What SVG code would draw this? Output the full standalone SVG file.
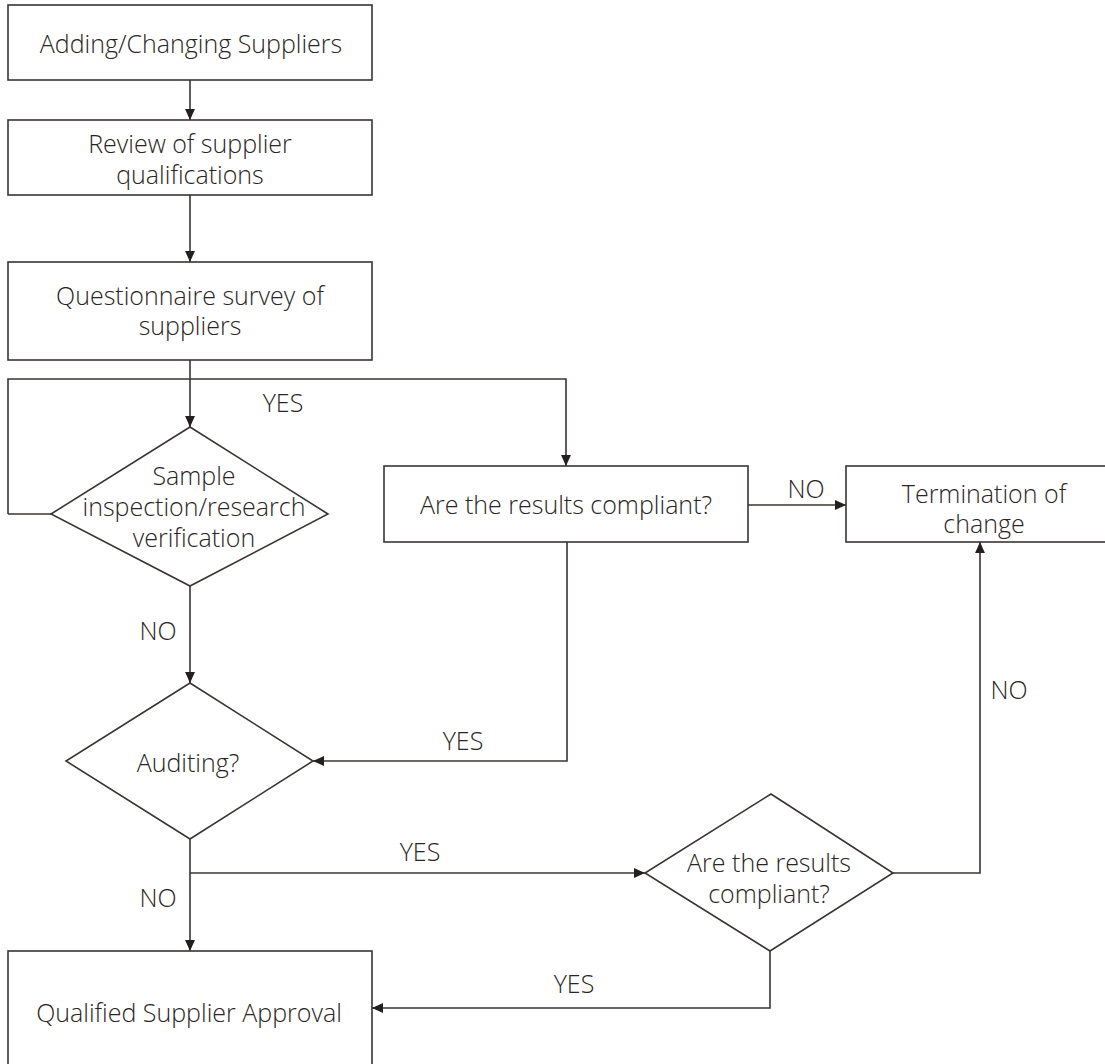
<svg xmlns="http://www.w3.org/2000/svg" width="1105" height="1064" viewBox="0 0 1105 1064">
<defs>
<style>
.box{fill:#fff;stroke:#3a3432;stroke-width:1.6}
.ln{fill:none;stroke:#3a3432;stroke-width:1.6}
.t{font-family:"Open Sans","Noto Sans","Liberation Sans",sans-serif;font-size:25px;font-weight:300;fill:#2a2523;text-anchor:middle}
</style>
<marker id="ah" viewBox="0 0 10 10" refX="10" refY="5" markerWidth="11" markerHeight="11" markerUnits="userSpaceOnUse" orient="auto">
<path d="M0,0.5 L10,5 L0,9.5 Z" fill="#231f1e"/>
</marker>
</defs>
<rect width="1105" height="1064" fill="#fff"/>
<g id="connectors">
<path class="ln" d="M190,80 V120" marker-end="url(#ah)"/>
<path class="ln" d="M190,195 V262" marker-end="url(#ah)"/>
<path class="ln" d="M190,360 V427" marker-end="url(#ah)"/>
<path class="ln" d="M8,514 V379 H566 V466" marker-end="url(#ah)"/>
<path class="ln" d="M8,514 H51"/>
<path class="ln" d="M748,505 H846" marker-end="url(#ah)"/>
<path class="ln" d="M190,586 V683" marker-end="url(#ah)"/>
<path class="ln" d="M567,542 V761 H313" marker-end="url(#ah)"/>
<path class="ln" d="M190,839 V951" marker-end="url(#ah)"/>
<path class="ln" d="M190,873 H645" marker-end="url(#ah)"/>
<path class="ln" d="M893,873 H980 V542" marker-end="url(#ah)"/>
<path class="ln" d="M770,951 V1008 H372" marker-end="url(#ah)"/>
<text class="t" x="283" y="412">YES</text>
<text class="t" x="158" y="640">NO</text>
<text class="t" x="806" y="498">NO</text>
<text class="t" x="463" y="750">YES</text>
<text class="t" x="420" y="861">YES</text>
<text class="t" x="158" y="907">NO</text>
<text class="t" x="574" y="993">YES</text>
<text class="t" x="1009" y="699">NO</text>
</g>
<g id="n1">
<rect class="box" x="8" y="5" width="364" height="75"/>
<text class="t" x="191" y="53">Adding/Changing Suppliers</text>
</g>
<g id="n2">
<rect class="box" x="8" y="120" width="364" height="75"/>
<text class="t" x="190" y="153">Review of supplier</text>
<text class="t" x="190" y="184">qualifications</text>
</g>
<g id="n3">
<rect class="box" x="8" y="262" width="364" height="98"/>
<text class="t" x="190" y="305">Questionnaire survey of</text>
<text class="t" x="190" y="335">suppliers</text>
</g>
<g id="n4">
<polygon class="box" points="190,427 328,514 190,586 51,514"/>
<text class="t" x="194" y="485">Sample</text>
<text class="t" x="194" y="516">inspection/research</text>
<text class="t" x="194" y="547">verification</text>
</g>
<g id="n5">
<rect class="box" x="384" y="466" width="364" height="76"/>
<text class="t" x="566" y="514">Are the results compliant?</text>
</g>
<g id="n6">
<rect class="box" x="846" y="466" width="276" height="76"/>
<text class="t" x="984" y="503">Termination of</text>
<text class="t" x="984" y="533">change</text>
</g>
<g id="n7">
<polygon class="box" points="190,683 313,761 190,839 66,761"/>
<text class="t" x="188" y="772">Auditing?</text>
</g>
<g id="n8">
<polygon class="box" points="771,794 893,873 770,951 645,873"/>
<text class="t" x="769" y="872">Are the results</text>
<text class="t" x="769" y="903">compliant?</text>
</g>
<g id="n9">
<rect class="box" x="8" y="951" width="364" height="125"/>
<text class="t" x="189" y="1022">Qualified Supplier Approval</text>
</g>
</svg>
